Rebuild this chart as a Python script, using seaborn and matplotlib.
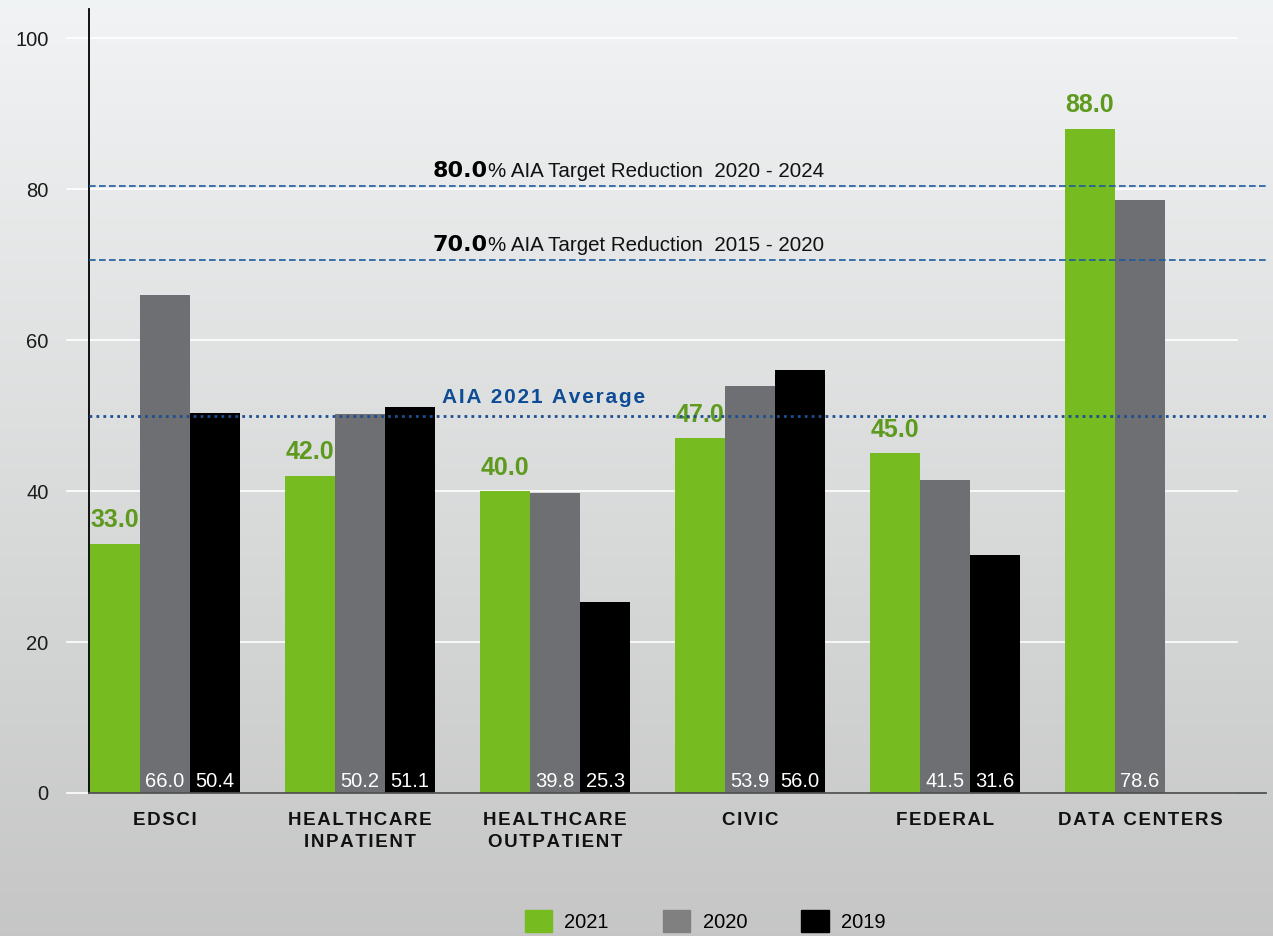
import numpy as np
import pandas as pd
import seaborn as sns
import matplotlib.pyplot as plt
from matplotlib.patches import Patch

# chart data
sectors = ['EDSCI', 'HEALTHCARE\nINPATIENT', 'HEALTHCARE\nOUTPATIENT', 'CIVIC', 'FEDERAL', 'DATA CENTERS']
years = ['2021', '2020', '2019']
eui_2021 = [33.0, 42.0, 40.0, 47.0, 45.0, 88.0]
eui_2020 = [66.0, 50.2, 39.8, 53.9, 41.5, 78.6]
eui_2019 = [50.4, 51.1, 25.3, 56.0, 31.6, np.nan]
ref_lines = [80.4, 70.6, 49.9]
ref_bold = ['80.0', '70.0']
ref_text = ['% AIA Target Reduction  2020 - 2024', '% AIA Target Reduction  2015 - 2020']

green, gray, black = '#76BC21', '#6D6F73', '#000000'
label_green = '#5E9A1E'
blue = '#1F5AA0'
SANS = ['Liberation Sans', 'DejaVu Sans']


def spaced(s):
    # rough letter spacing with hair spaces
    return '\n'.join('\u200a'.join(line) for line in s.split('\n'))


df = pd.DataFrame({
    'sector': sectors * 3,
    'year': [y for y in years for _ in sectors],
    'value': eui_2021 + eui_2020 + eui_2019,
}).dropna()

plt.rcParams['font.family'] = SANS
fig = plt.figure(figsize=(12.73, 9.36), dpi=100)

# gradient background
bg = fig.add_axes([0, 0, 1, 1], zorder=-10)
top = np.array([0.945, 0.953, 0.957])
bot = np.array([0.773, 0.776, 0.773])
t = np.linspace(0, 1, 256)[:, None]
grad = (top * (1 - t) + bot * t)[:, None, :]
bg.imshow(grad, aspect='auto', extent=[0, 1, 0, 1])
bg.axis('off')

ax = fig.add_axes([0.06991, 0.15278, 0.92459, 0.83761])
ax.patch.set_alpha(0)

sns.barplot(data=df, x='sector', y='value', hue='year', hue_order=years,
            order=sectors, palette=[green, gray, black], saturation=1,
            width=0.77, legend=False, ax=ax, zorder=2)

ax.set_xlim(-0.39, 5.646)
ax.set_ylim(0, 103.9)
ax.set_yticks([0, 20, 40, 60, 80, 100])

# white gridlines, starting a bit left of the y axis
for yv in ax.get_yticks():
    ax.axhline(yv, xmin=-22 / 1177, xmax=1148 / 1177, color='white', lw=1.2,
               zorder=0.5, clip_on=False)

# value labels
for bar in ax.containers[0]:
    h = bar.get_height()
    ax.annotate(f'{h:.1f}', (bar.get_x() + bar.get_width() / 2, h),
                xytext=(0, 12), textcoords='offset points', ha='center', va='baseline',
                fontsize=18, fontweight='bold', color=label_green, zorder=3)
for cont in ax.containers[1:]:
    for bar in cont:
        h = bar.get_height()
        ax.annotate(f'{h:.1f}', (bar.get_x() + bar.get_width() / 2, 0),
                    xytext=(0, 4.5), textcoords='offset points', ha='center', va='baseline',
                    fontsize=14.5, color='white', zorder=3)

# target lines
for yv, b, rest in zip(ref_lines[:2], ref_bold, ref_text):
    ax.axhline(yv, color=blue, lw=1.2, ls=(0, (4, 2)), zorder=4)
    t1 = ax.annotate(b, (0.292, yv), xycoords=('axes fraction', 'data'),
                     xytext=(0, 7), textcoords='offset points', va='baseline',
                     fontsize=16, fontweight='heavy', family=['DejaVu Sans'], color='black')
    ax.annotate(rest, xy=(1, 0), xycoords=t1, xytext=(0, 0), textcoords='offset points',
                va='bottom', fontsize=14.8, color='#111111')

ax.axhline(ref_lines[2], color='#1B4F91', lw=2, ls=(0, (1, 1.5)), zorder=4)
ax.annotate(spaced('AIA 2021 Average'), (0.3, ref_lines[2]),
            xycoords=('axes fraction', 'data'), xytext=(0, 9.5), textcoords='offset points',
            va='baseline', fontsize=15, fontweight='bold', color='#0E4C96')

# axes styling
for side in ['top', 'right']:
    ax.spines[side].set_visible(False)
ax.spines['left'].set_color('black')
ax.spines['left'].set_linewidth(1.3)
ax.spines['bottom'].set_color('#505050')
ax.spines['bottom'].set_linewidth(1.3)
ax.set_xlabel('')
ax.set_ylabel('')
ax.tick_params(axis='y', length=0, pad=29, labelsize=14.5, labelcolor='#1a1a1a')
ax.tick_params(axis='x', length=0, pad=14)
ax.set_xticks(range(len(sectors)))
ax.set_xticklabels([spaced(s) for s in sectors], fontsize=13.5, fontweight='bold',
                   color='#111111', linespacing=1.35)

handles = [Patch(color=c) for c in [green, '#808080', black]]
fig.legend(handles, years, loc='center', bbox_to_anchor=(0.554, 0.016), ncol=3,
           frameon=False, fontsize=14.5, handlelength=1.35, handleheight=1.35,
           handletextpad=0.6, columnspacing=2.7)

fig.savefig('out.png', dpi=100)
